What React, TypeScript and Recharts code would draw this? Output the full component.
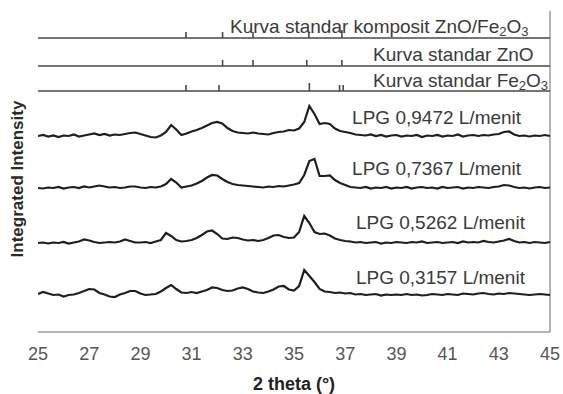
import { LineChart, Line, XAxis, YAxis, ReferenceLine, ReferenceDot } from "recharts";

// 2 theta grid (degrees)
const twoTheta = [
  25, 25.2, 25.4, 25.6, 25.8, 26, 26.2, 26.4, 26.6, 26.8,
  27, 27.2, 27.4, 27.6, 27.8, 28, 28.2, 28.4, 28.6, 28.8,
  29, 29.2, 29.4, 29.6, 29.8, 30, 30.2, 30.4, 30.6, 30.8,
  31, 31.2, 31.4, 31.6, 31.8, 32, 32.2, 32.4, 32.6, 32.8,
  33, 33.2, 33.4, 33.6, 33.8, 34, 34.2, 34.4, 34.6, 34.8,
  35, 35.2, 35.4, 35.6, 35.8, 36, 36.2, 36.4, 36.6, 36.8,
  37, 37.2, 37.4, 37.6, 37.8, 38, 38.2, 38.4, 38.6, 38.8,
  39, 39.2, 39.4, 39.6, 39.8, 40, 40.2, 40.4, 40.6, 40.8,
  41, 41.2, 41.4, 41.6, 41.8, 42, 42.2, 42.4, 42.6, 42.8,
  43, 43.2, 43.4, 43.6, 43.8, 44, 44.2, 44.4, 44.6, 44.8, 45,
];

// intensities (a.u., above each pattern's own baseline)
const lpg9472 = [
  0, 1, -0.5, 0.5, -1, 0.5, 0, 1.5, -0.5, 0.5,
  1.5, 2.5, 1, 2, 0.5, 1.5, 1, 2, 3, 3.5,
  2, 0.5, -1, -1.5, 0.5, 4, 11, 6.5, 1, 2.5,
  4.5, 6, 8, 10.5, 13, 14, 12.5, 8, 5, 3.5,
  3, 2.5, 3.5, 2.5, 2, 1.5, 3, 4, 4.5, 6,
  5.5, 7.5, 14, 30, 22, 12, 13, 12, 7.5, 5,
  4, 3, 1.5, 1, 0.5, 1.5, 0, 1, -0.5, 0.5,
  1, -0.5, 0.5, 0, 1, -1, 0.5, 0, 1, -0.5,
  0.5, 0, 1.5, -0.5, 0.5, 1, 0, 1, 0.5, 1.5,
  2, 4, 4.5, 1.5, 0, 0.5, -0.5, 0.5, 0, 1, 0,
];
const lpg7367 = [
  0, -0.5, 0.5, 0, 1, -0.5, 0.5, 1, 0, 1.5,
  0.5, 1.5, 2.5, 1.5, 0.5, 1, 0, 0.5, 1.5, 1.5,
  0.5, 0, 1, 0.5, 1.5, 4, 9, 5.5, 0.5, 1.5,
  2.5, 4.5, 7, 10.5, 13, 12.5, 9, 6, 4, 3,
  2.5, 2, 1.5, 1, 0.5, 1.5, 1, 2, 1.5, 2.5,
  3.5, 5, 13, 27, 29, 12, 12, 12.5, 8, 5,
  3, 1, 0.5, 0, 1, -0.5, 0.5, 0, 1, -0.5,
  0.5, 0, 1, -0.5, 0.5, 1, 0, 0.5, -0.5, 1,
  0, 0.5, 1, -0.5, 0.5, 0, 1, 0.5, 0, 1,
  1.5, 3, 2.5, 1, 0, 0.5, -0.5, 0.5, 1, 0, 0.5,
];
const lpg5262 = [
  0, 0.5, -0.5, 0.5, 0, 1, -0.5, 0.5, 1.5, 3.5,
  2.5, 1, 0, 0.5, 1, 0.5, 1.5, 3.5, 2, 0.5,
  0.5, 1, 0, 1.5, 3, 10, 7, 3, 1.5, 2,
  3, 5, 8, 11.5, 12.5, 9, 4.5, 4, 5.5, 5,
  3.5, 2.5, 3, 2, 3, 5, 7.5, 8, 6, 5,
  5.5, 11, 27, 20, 11, 9, 9.5, 7.5, 4.5, 3,
  2, 1.5, 0.5, 1, 0, 0.5, 1, -0.5, 0.5, 0,
  1, 0.5, 0, 1, 0.5, 1.5, 0, 0.5, 1, 0,
  0.5, 1, 0, 1.5, 0.5, 1, 0.5, 2, 1, 0.5,
  1.5, 2.5, 4, 2, 0.5, 1, 0, 1, 0.5, 0, 1,
];
const lpg3157 = [
  1, 3, 1.5, 0, 0.5, -1.5, 0, 0.5, 2, 4,
  6, 5.5, 2, 0.5, -1.5, -2, 0.5, 2, 4, 4,
  1.5, 0, 0.5, 1, 3.5, 7, 10, 6, 2.5, 2,
  3, 2, 3.5, 5, 7.5, 7, 5, 4, 4.5, 6.5,
  7.5, 6, 3.5, 2.5, 2, 3.5, 5.5, 8.5, 9, 5.5,
  4.5, 9, 25, 19, 13, 6, 3.5, 3, 2, 2.5,
  1.5, 2, 0.5, 1, 0, 0.5, 1, -0.5, 0.5, 0,
  0.5, 0, 1, 0, 0.5, -0.5, 0, 1, 0.5, 0,
  1, 0.5, 0, 1.5, 1, 0.5, 1.5, 2, 1, 0.5,
  1.5, 1, 2, 1.5, 1, 0.5, 0, 0.5, 1, 0.5, 0,
];

// reference stick patterns: peak positions and stick heights
const compositePeaks = [30.78, 32.21, 33.4, 35.58, 36.87];
const compositeHeights = [6, 6, 6, 6, 8];
const znoPeaks = [32.21, 33.4, 35.5, 36.87];
const znoHeights = [6, 6, 6, 6];
const fe2o3Peaks = [30.78, 32.07, 35.6, 36.78, 36.92];
const fe2o3Heights = [6, 6, 8, 6, 6];

const xTicks = [25, 27, 29, 31, 33, 35, 37, 39, 41, 43, 45];

// vertical stacking offsets
const traceOffsets = [196, 144, 89, 37];
const stdOffsets = [294, 266, 241];

const FONT = "'Liberation Sans', Arial, sans-serif";
const TRACE_COLOR = "#1e1e1e";
const TEXT_COLOR = "#3a3a3a";

const toTrace = (vals: number[], off: number) =>
  twoTheta.map((x, i) => ({ x, y: vals[i] + off }));

const toSticks = (peaks: number[], heights: number[], base: number) => {
  const pts = [{ x: 25, y: base }];
  peaks.forEach((p, i) => {
    pts.push({ x: p, y: base }, { x: p, y: base + heights[i] }, { x: p, y: base });
  });
  pts.push({ x: 45, y: base });
  return pts;
};

const traces = [
  { name: "LPG 0,9472 L/menit", data: toTrace(lpg9472, traceOffsets[0]) },
  { name: "LPG 0,7367 L/menit", data: toTrace(lpg7367, traceOffsets[1]) },
  { name: "LPG 0,5262 L/menit", data: toTrace(lpg5262, traceOffsets[2]) },
  { name: "LPG 0,3157 L/menit", data: toTrace(lpg3157, traceOffsets[3]) },
];

const standards = [
  toSticks(compositePeaks, compositeHeights, stdOffsets[0]),
  toSticks(znoPeaks, znoHeights, stdOffsets[1]),
  toSticks(fe2o3Peaks, fe2o3Heights, stdOffsets[2]),
];

type Seg = { t: string; sub?: boolean };

const textLabels: { x: number; y: number; segs: Seg[] }[] = [
  { x: 32.5, y: 306, segs: [{ t: "Kurva standar komposit ZnO/Fe" }, { t: "2", sub: true }, { t: "O" }, { t: "3", sub: true }] },
  { x: 38.09, y: 278, segs: [{ t: "Kurva standar ZnO" }] },
  { x: 38.09, y: 252, segs: [{ t: "Kurva standar Fe" }, { t: "2", sub: true }, { t: "O" }, { t: "3", sub: true }] },
  { x: 37.27, y: 215.5, segs: [{ t: traces[0].name }] },
  { x: 37.27, y: 164, segs: [{ t: traces[1].name }] },
  { x: 37.42, y: 110, segs: [{ t: traces[2].name }] },
  { x: 37.42, y: 55, segs: [{ t: traces[3].name }] },
];

const renderText = (segs: Seg[]) => (props: any) => {
  const vb = props.viewBox || {};
  let shifted = false;
  return (
    <text x={vb.x} y={vb.y} fontSize={19} fontFamily={FONT} fill={TEXT_COLOR} dominantBaseline="central">
      {segs.map((s, i) => {
        let dy = 0;
        if (s.sub && !shifted) { dy = 5; shifted = true; }
        else if (!s.sub && shifted) { dy = -5; shifted = false; }
        return (
          <tspan key={i} dy={dy} fontSize={s.sub ? 13 : 19}>{s.t}</tspan>
        );
      })}
    </text>
  );
};

export default function App() {
  return (
    <div style={{ position: "absolute", left: 0, top: 0 }}>
      <LineChart width={563} height={394} margin={{ top: 11, right: 13, bottom: 0, left: 0 }}>
        <XAxis
          dataKey="x"
          type="number"
          domain={[25, 45]}
          ticks={xTicks}
          allowDataOverflow
          tickLine={false}
          tickMargin={9}
          height={62}
          axisLine={{ stroke: "#9a9a9a", strokeWidth: 1.5 }}
          tick={{ fill: "#555", fontSize: 18, fontFamily: FONT }}
          label={{
            content: () => (
              <text x={294} y={384} textAnchor="middle" dominantBaseline="central" fontSize={18} fontWeight="bold" fontFamily={FONT} fill="#222">
                2 theta (°)
              </text>
            ),
          }}
        />
        <YAxis
          type="number"
          domain={[0, 321]}
          width={38}
          tick={false}
          axisLine={false}
          tickLine={false}
          label={{
            content: () => (
              <text x={17} y={179} transform="rotate(-90 17 179)" textAnchor="middle" dominantBaseline="central" fontSize={17} fontWeight="bold" fontFamily={FONT} fill="#2a2a2a">
                Integrated Intensity
              </text>
            ),
          }}
        />
        <ReferenceLine x={45} stroke="#9a9a9a" strokeWidth={1.5} />
        {standards.map((d, i) => (
          <Line key={"s" + i} data={d} dataKey="y" type="linear" stroke="#4a4a4a" strokeWidth={1.6} dot={false} isAnimationActive={false} />
        ))}
        {traces.map((t) => (
          <Line key={t.name} data={t.data} dataKey="y" type="linear" stroke={TRACE_COLOR} strokeWidth={2.2} dot={false} isAnimationActive={false} />
        ))}
        {textLabels.map((l, i) => (
          <ReferenceDot key={"l" + i} x={l.x} y={l.y} r={0} fill="none" stroke="none" label={{ content: renderText(l.segs) }} />
        ))}
      </LineChart>
    </div>
  );
}
